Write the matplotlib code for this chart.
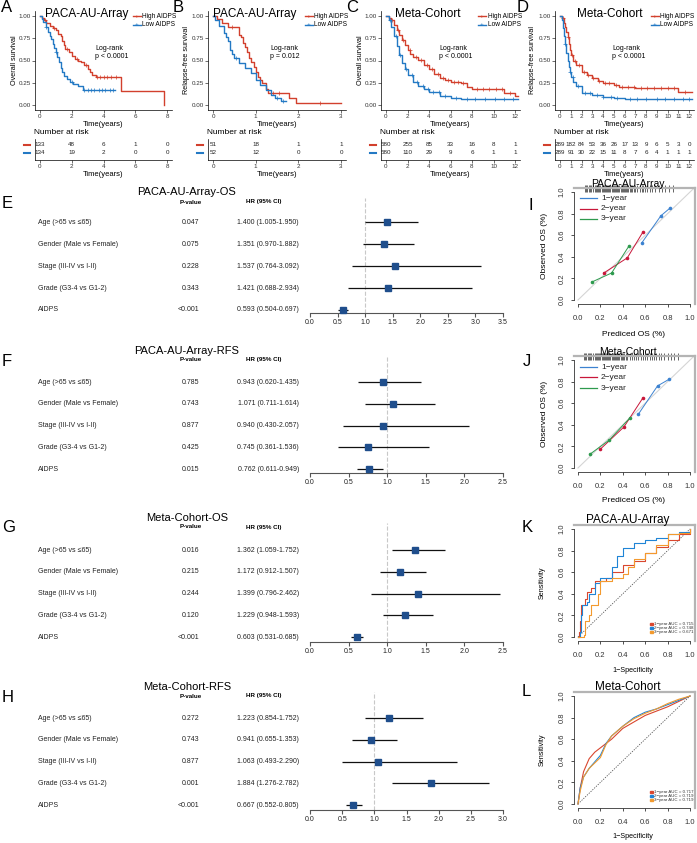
import numpy as np
import matplotlib
matplotlib.use("Agg")
import matplotlib.pyplot as plt
from matplotlib.lines import Line2D
from matplotlib.patches import Rectangle

plt.rcParams['font.family'] = ['Liberation Sans', 'DejaVu Sans']

# ====================== DATA ======================
# ---- Kaplan-Meier step curves ----
A_high_t = [0, 0.1, 0.25, 0.4, 0.6, 0.8, 1.0, 1.15, 1.3, 1.4, 1.5, 1.6, 1.8, 2.0, 2.2, 2.4, 2.6, 2.8, 3.0, 3.15, 3.3, 3.5, 5.1, 7.8]
A_high_s = [1, 0.975, 0.95, 0.92, 0.89, 0.865, 0.84, 0.80, 0.77, 0.72, 0.67, 0.63, 0.59, 0.55, 0.52, 0.50, 0.48, 0.45, 0.41, 0.37, 0.34, 0.31, 0.16, 0.0]
A_high_end = 7.8
A_low_t = [0, 0.1, 0.2, 0.35, 0.5, 0.6, 0.7, 0.8, 0.9, 1.0, 1.1, 1.2, 1.3, 1.4, 1.5, 1.7, 1.9, 2.1, 2.4, 2.7]
A_low_s = [1, 0.97, 0.93, 0.88, 0.82, 0.78, 0.74, 0.69, 0.64, 0.59, 0.54, 0.48, 0.42, 0.37, 0.33, 0.29, 0.26, 0.235, 0.21, 0.17]
A_low_end = 4.7
A_cens_high = [0.3, 0.9, 1.7, 2.3, 2.9, 3.6, 3.8, 4.0, 4.2, 4.5, 4.8]
A_cens_low = [0.4, 1.0, 2.0, 2.8, 3.0, 3.2, 3.4, 3.7, 3.9, 4.1, 4.4, 4.6]

B_high_t = [0, 0.1, 0.2, 0.35, 0.6, 0.65, 0.7, 0.75, 0.8, 0.85, 0.9, 0.95, 1.0, 1.05, 1.1, 1.15, 1.25, 1.3, 1.78, 1.95]
B_high_s = [1, 0.97, 0.925, 0.875, 0.79, 0.76, 0.70, 0.65, 0.60, 0.53, 0.48, 0.43, 0.37, 0.32, 0.28, 0.245, 0.18, 0.13, 0.075, 0.02]
B_high_end = 3.0
B_low_t = [0, 0.05, 0.15, 0.25, 0.3, 0.35, 0.4, 0.45, 0.5, 0.6, 0.75, 0.9, 1.0, 1.1, 1.25, 1.35, 1.45, 1.6]
B_low_s = [1, 0.96, 0.89, 0.81, 0.76, 0.72, 0.62, 0.57, 0.53, 0.47, 0.415, 0.36, 0.28, 0.22, 0.17, 0.11, 0.075, 0.04]
B_low_end = 1.72
B_cens_high = [0.45, 1.4, 1.55, 2.5]
B_cens_low = [0.55, 1.5, 1.65]

C_high_t = [0, 0.25, 0.5, 0.75, 1.0, 1.25, 1.5, 1.75, 2.0, 2.25, 2.5, 3.0, 3.5, 4.0, 4.5, 5.0, 5.5, 6.0, 7.0, 7.5, 8.0, 11.0, 12.0]
C_high_s = [1, 0.98, 0.95, 0.90, 0.84, 0.79, 0.73, 0.67, 0.62, 0.57, 0.54, 0.505, 0.45, 0.40, 0.345, 0.30, 0.28, 0.26, 0.25, 0.20, 0.18, 0.13, 0.105]
C_high_end = 12.3
C_low_t = [0, 0.25, 0.5, 0.75, 1.0, 1.25, 1.5, 1.75, 2.0, 2.5, 3.0, 3.5, 4.0, 5.0, 6.0, 7.0]
C_low_s = [1, 0.95, 0.88, 0.77, 0.66, 0.56, 0.47, 0.40, 0.34, 0.26, 0.21, 0.18, 0.15, 0.105, 0.08, 0.07]
C_low_end = 12.3
C_cens_high = [0.6, 1.1, 1.6, 2.2, 2.8, 3.3, 3.8, 4.3, 4.8, 5.3, 5.8, 6.3, 6.7, 7.2, 8.5, 9.0, 9.6, 10.2, 10.8, 11.5]
C_cens_low = [0.4, 0.9, 1.3, 1.9, 2.4, 2.9, 3.4, 3.9, 4.4, 4.9, 5.5, 6.5, 7.5, 8.3, 9.2, 10.1, 11.0, 11.8]

D_high_t = [0, 0.2, 0.4, 0.5, 0.6, 0.7, 0.8, 0.9, 1.0, 1.25, 1.5, 2.0, 2.5, 3.0, 3.5, 4.0, 5.0, 5.5, 7.0, 11.0]
D_high_s = [1, 0.975, 0.92, 0.88, 0.825, 0.76, 0.69, 0.62, 0.56, 0.50, 0.45, 0.375, 0.34, 0.30, 0.27, 0.25, 0.225, 0.205, 0.195, 0.15]
D_high_end = 12.3
D_low_t = [0, 0.2, 0.3, 0.4, 0.5, 0.6, 0.7, 0.8, 0.9, 1.0, 1.25, 1.5, 2.0, 3.0, 4.0, 5.0, 6.0]
D_low_s = [1, 0.95, 0.87, 0.77, 0.68, 0.58, 0.50, 0.43, 0.37, 0.32, 0.26, 0.21, 0.13, 0.11, 0.095, 0.08, 0.07]
D_low_end = 12.3
D_cens_high = [0.3, 0.7, 1.1, 1.4, 1.8, 2.2, 2.6, 3.1, 3.6, 4.2, 4.6, 5.2, 5.8, 6.3, 6.9, 7.5, 8.1, 8.7, 9.4, 10.0, 10.6, 11.6]
D_cens_low = [0.5, 0.9, 1.2, 1.7, 2.3, 2.8, 3.4, 4.0, 4.7, 5.3, 6.5, 7.2, 8.0, 9.0, 9.8, 10.6, 11.4, 12.0]

# ---- numbers at risk ----
A_risk_t = [0, 2, 4, 6, 8];  A_risk_high = [133, 48, 6, 1, 0];  A_risk_low = [134, 19, 2, 0, 0]
B_risk_t = [0, 1, 2, 3];     B_risk_high = [51, 18, 1, 1];     B_risk_low = [52, 12, 0, 0]
C_risk_t = [0, 2, 4, 6, 8, 10, 12]
C_risk_high = [580, 255, 85, 33, 16, 8, 1]
C_risk_low = [580, 110, 29, 9, 6, 1, 1]
D_risk_t = list(range(13))
D_risk_high = [289, 182, 84, 53, 36, 26, 17, 13, 9, 6, 5, 3, 0]
D_risk_low = [289, 91, 30, 22, 15, 11, 8, 7, 6, 4, 1, 1, 1]

# ---- forest plots ----
forest_labels = ["Age (>65 vs \u226465)", "Gender (Male vs Female)", "Stage (III-IV vs I-II)",
                 "Grade (G3-4 vs G1-2)", "AIDPS"]
E_p = ["0.047", "0.075", "0.228", "0.343", "<0.001"]
E_hr = [1.400, 1.351, 1.537, 1.421, 0.593]
E_lo = [1.005, 0.970, 0.764, 0.688, 0.504]
E_hi = [1.950, 1.882, 3.092, 2.934, 0.697]
F_p = ["0.785", "0.743", "0.877", "0.425", "0.015"]
F_hr = [0.943, 1.071, 0.940, 0.745, 0.762]
F_lo = [0.620, 0.711, 0.430, 0.361, 0.611]
F_hi = [1.435, 1.614, 2.057, 1.536, 0.949]
G_p = ["0.016", "0.215", "0.244", "0.120", "<0.001"]
G_hr = [1.362, 1.172, 1.399, 1.229, 0.603]
G_lo = [1.059, 0.912, 0.796, 0.948, 0.531]
G_hi = [1.752, 1.507, 2.462, 1.593, 0.685]
H_p = ["0.272", "0.743", "0.877", "0.001", "<0.001"]
H_hr = [1.223, 0.941, 1.063, 1.884, 0.667]
H_lo = [0.854, 0.655, 0.493, 1.276, 0.552]
H_hi = [1.752, 1.353, 2.290, 2.782, 0.805]

# ---- calibration curves (predicted, observed) ----
I_1y_x = [0.57, 0.74, 0.82]; I_1y_y = [0.53, 0.78, 0.85]
I_2y_x = [0.23, 0.44, 0.58]; I_2y_y = [0.25, 0.39, 0.63]
I_3y_x = [0.125, 0.30, 0.455]; I_3y_y = [0.167, 0.25, 0.50]
J_1y_x = [0.54, 0.71, 0.81]; J_1y_y = [0.50, 0.76, 0.82]
J_2y_x = [0.20, 0.41, 0.58]; J_2y_y = [0.175, 0.38, 0.65]
J_3y_x = [0.11, 0.28, 0.46]; J_3y_y = [0.13, 0.26, 0.46]
I_rug = [0.06, 0.07, 0.08, 0.1, 0.11, 0.12, 0.13, 0.15, 0.16, 0.17, 0.18, 0.19, 0.2, 0.21, 0.22, 0.23,
         0.24, 0.25, 0.26, 0.27, 0.28, 0.29, 0.3, 0.31, 0.32, 0.33, 0.34, 0.35, 0.36, 0.37, 0.38, 0.39,
         0.4, 0.41, 0.42, 0.43, 0.44, 0.45, 0.46, 0.47, 0.48, 0.5, 0.51, 0.53, 0.55, 0.57, 0.58, 0.6,
         0.62, 0.64, 0.66, 0.69, 0.72, 0.75, 0.78, 0.81, 0.85]
J_rug = [0.05, 0.06, 0.07, 0.09, 0.1, 0.11, 0.12, 0.13, 0.15, 0.16, 0.17, 0.18, 0.19, 0.2, 0.21, 0.22,
         0.23, 0.24, 0.25, 0.26, 0.27, 0.28, 0.29, 0.3, 0.31, 0.32, 0.33, 0.34, 0.35, 0.36, 0.37, 0.38,
         0.39, 0.4, 0.41, 0.43, 0.44, 0.46, 0.48, 0.5, 0.52, 0.54, 0.56, 0.58, 0.6, 0.62, 0.64, 0.66,
         0.68, 0.7, 0.72, 0.74, 0.77, 0.8, 0.83, 0.86, 0.89]

# ---- ROC curves (1-specificity, sensitivity) ----
K_1y_x = [0, 0.01, 0.02, 0.03, 0.06, 0.08, 0.12, 0.15, 0.25, 0.3, 0.4, 0.5, 0.6, 0.7, 0.8, 0.9, 1.0]
K_1y_y = [0, 0.05, 0.15, 0.30, 0.35, 0.42, 0.45, 0.52, 0.55, 0.60, 0.67, 0.70, 0.78, 0.83, 0.90, 0.95, 1.0]
K_2y_x = [0, 0.02, 0.03, 0.04, 0.08, 0.1, 0.15, 0.2, 0.3, 0.35, 0.4, 0.5, 0.6, 0.7, 0.8, 0.9, 1.0]
K_2y_y = [0, 0.05, 0.20, 0.30, 0.32, 0.40, 0.50, 0.55, 0.65, 0.75, 0.82, 0.87, 0.90, 0.92, 0.95, 0.97, 1.0]
K_3y_x = [0, 0.05, 0.06, 0.1, 0.12, 0.18, 0.2, 0.3, 0.4, 0.45, 0.5, 0.6, 0.7, 0.8, 0.9, 1.0]
K_3y_y = [0, 0.02, 0.15, 0.20, 0.30, 0.40, 0.52, 0.55, 0.58, 0.65, 0.72, 0.78, 0.85, 0.95, 0.96, 1.0]
K_auc = [0.715, 0.748, 0.671]
L_1y_x = [0, 0.02, 0.05, 0.1, 0.15, 0.2, 0.3, 0.4, 0.5, 0.6, 0.7, 0.8, 0.9, 1.0]
L_1y_y = [0, 0.15, 0.30, 0.42, 0.48, 0.52, 0.60, 0.70, 0.76, 0.82, 0.86, 0.90, 0.95, 1.0]
L_2y_x = [0, 0.02, 0.05, 0.1, 0.2, 0.25, 0.3, 0.4, 0.5, 0.6, 0.7, 0.8, 0.9, 1.0]
L_2y_y = [0, 0.15, 0.25, 0.33, 0.45, 0.56, 0.63, 0.72, 0.80, 0.85, 0.88, 0.92, 0.96, 1.0]
L_3y_x = [0, 0.02, 0.05, 0.1, 0.2, 0.25, 0.3, 0.4, 0.5, 0.6, 0.7, 0.8, 0.9, 1.0]
L_3y_y = [0, 0.12, 0.25, 0.33, 0.43, 0.55, 0.63, 0.72, 0.79, 0.84, 0.88, 0.93, 0.97, 1.0]
L_auc = [0.717, 0.719, 0.719]

# ====================== STYLE ======================
RED = '#D2402D'
BLUE = '#2379C4'
NAVY = '#1F4E8C'
CAL_BLUE, CAL_RED, CAL_GREEN = '#3C82D0', '#C8173A', '#2E9A4E'
ROC_RED, ROC_BLUE, ROC_ORANGE = '#D9472F', '#1F84D6', '#F39A2E'

W, H = 697, 843
fig = plt.figure(figsize=(W / 100, H / 100), dpi=100)


def px_axes(x0, y0, x1, y1):
    return fig.add_axes([x0 / W, 1 - y1 / H, (x1 - x0) / W, (y1 - y0) / H])


def ftext(x, y, s, **kw):
    kw.setdefault('va', 'center')
    fig.text(x / W, 1 - y / H, s, **kw)


def fline(x0, x1, y, **kw):
    fig.add_artist(Line2D([x0 / W, x1 / W], [1 - y / H, 1 - y / H], transform=fig.transFigure, **kw))


def surv_at(t, s, ct):
    i = np.searchsorted(np.asarray(t), ct, side='right') - 1
    return np.asarray(s)[i]


def km_panel(letter, letter_x, t0px, t1px, tmax, xticks, ylabel, ylab_x, title, title_x,
             high, low, cens, logrank_x, ptext, leg_line_x, risk_t, risk_high, risk_low):
    y1px, y0px = 16, 105
    sx = (t1px - t0px) / tmax
    sy = (y0px - y1px)
    ax = px_axes(t0px - 5, y1px - 5, t1px + 5, y0px + 5)
    ax.set_xlim(-5 / sx, tmax + 5 / sx)
    ax.set_ylim(-5 / sy, 1 + 5 / sy)
    for sp in ['top', 'right']:
        ax.spines[sp].set_visible(False)
    for sp in ['left', 'bottom']:
        ax.spines[sp].set_linewidth(0.5)
    ax.tick_params(length=2, width=0.5, labelsize=4.5, pad=1, colors='#333333')
    ax.set_xticks(xticks)
    ax.set_xticklabels([str(v) for v in xticks])
    ax.set_yticks([0, 0.25, 0.5, 0.75, 1.0])
    ax.set_yticklabels(['0.00', '0.25', '0.50', '0.75', '1.00'])
    for (t, s, end), col, ct in [(high, RED, cens[0]), (low, BLUE, cens[1])]:
        ax.step(list(t) + [end], list(s) + [s[-1]], where='post', color=col, lw=1.0)
        ct = [c for c in ct if c <= end]
        ax.plot(ct, [surv_at(t, s, c) for c in ct], '+', color=col, ms=2.5, mew=0.5)
    ax.set_xlabel('Time(years)', fontsize=5.5, labelpad=1)
    ftext(ylab_x, 60, ylabel, fontsize=5.2, rotation=90, ha='center')
    ftext(title_x, 14, title, fontsize=8.5, ha='center')
    ftext(logrank_x, 48, 'Log-rank', fontsize=5, ha='left')
    ftext(logrank_x, 57, ptext, fontsize=5, ha='left')
    ftext(letter_x, 7, letter, fontsize=12, ha='left')
    # legend
    for yy, col, lab in [(16, RED, 'High AIDPS'), (25, BLUE, 'Low AIDPS')]:
        fline(leg_line_x, leg_line_x + 8, yy, color=col, lw=1)
        ftext(leg_line_x + 4, yy, '+', fontsize=4.5, color=col, ha='center')
        ftext(leg_line_x + 9.5, yy, lab, fontsize=4.7, ha='left')
    # risk table
    rax = px_axes(t0px - 5, 139, t1px + 5, 160)
    rax.set_xlim(-5 / sx, tmax + 5 / sx)
    rax.set_ylim(160, 139)
    for sp in ['top', 'right']:
        rax.spines[sp].set_visible(False)
    for sp in ['left', 'bottom']:
        rax.spines[sp].set_linewidth(0.5)
    rax.set_yticks([])
    rax.set_xticks(risk_t)
    rax.set_xticklabels([str(v) for v in risk_t])
    rax.tick_params(length=2, width=0.5, labelsize=4.5, pad=1, colors='#333333')
    rax.set_xlabel('Time(years)', fontsize=5.5, labelpad=1)
    for yy, vals, col in [(145, risk_high, RED), (153, risk_low, BLUE)]:
        for tt, v in zip(risk_t, vals):
            rax.text(tt, yy, str(v), fontsize=4.5, ha='center', va='center', color='#222222')
        fline(t0px - 16, t0px - 10, yy, color=col, lw=1.5)
    ftext(t0px - 6, 133, 'Number at risk', fontsize=6, ha='left')


km_panel('A', 1, 40, 167, 8, [0, 2, 4, 6, 8], 'Overall survival', 15, 'PACA-AU-Array', 87,
         (A_high_t, A_high_s, A_high_end), (A_low_t, A_low_s, A_low_end), (A_cens_high, A_cens_low),
         95, 'p < 0.0001', 133, A_risk_t, A_risk_high, A_risk_low)
km_panel('B', 173, 213, 341, 3, [0, 1, 2, 3], 'Relapse-free survival', 187, 'PACA-AU-Array', 255,
         (B_high_t, B_high_s, B_high_end), (B_low_t, B_low_s, B_low_end), (B_cens_high, B_cens_low),
         270, 'p = 0.012', 305, B_risk_t, B_risk_high, B_risk_low)
km_panel('C', 346, 386, 515, 12, [0, 2, 4, 6, 8, 10, 12], 'Overall survival', 360, 'Meta-Cohort', 428,
         (C_high_t, C_high_s, C_high_end), (C_low_t, C_low_s, C_low_end), (C_cens_high, C_cens_low),
         439, 'p < 0.0001', 478, C_risk_t, C_risk_high, C_risk_low)
km_panel('D', 517, 560, 689, 12, list(range(13)), 'Relapse-free survival', 533, 'Meta-Cohort', 610,
         (D_high_t, D_high_s, D_high_end), (D_low_t, D_low_s, D_low_end), (D_cens_high, D_cens_low),
         612, 'p < 0.0001', 651, D_risk_t, D_risk_high, D_risk_low)


# ---------------- forest plots ----------------
def forest(letter, title, title_y, header_y, row0, sp, axis_y, xmax, p, hr, lo, hi):
    ftext(2, header_y + 1, letter, fontsize=12, ha='left')
    ftext(187, title_y, title, fontsize=8, ha='center')
    ftext(191, header_y, 'P-value', fontsize=4.5, weight='bold', ha='center')
    ftext(264, header_y, 'HR (95% CI)', fontsize=4.5, weight='bold', ha='center')
    for i, lab in enumerate(forest_labels):
        yy = row0 + i * sp
        ftext(38, yy, lab, fontsize=5, ha='left', color='#222222')
        ftext(199, yy, p[i], fontsize=5, ha='right', color='#222222')
        ftext(299, yy, f"{hr[i]:.3f} ({lo[i]:.3f}-{hi[i]:.3f})", fontsize=5, ha='right', color='#222222')
    top = header_y - 4
    ax = px_axes(310, top, 503, axis_y)
    ax.set_xlim(0, xmax)
    ax.set_ylim((axis_y - row0) / sp, (top - row0) / sp)
    for s in ['top', 'right', 'left']:
        ax.spines[s].set_visible(False)
    ax.spines['bottom'].set_color('#555555')
    ax.spines['bottom'].set_linewidth(0.8)
    ax.set_yticks([])
    ticks = np.arange(0, xmax + 0.01, 0.5)
    ax.set_xticks(ticks)
    ax.set_xticklabels([f"{t:.1f}" for t in ticks])
    ax.tick_params(axis='x', length=3, width=0.8, color='#555555', labelsize=5, pad=1.5, labelcolor='#222222')
    ax.axvline(1.0, color='#C8C8C8', ls='--', lw=0.8, zorder=0)
    idx = np.arange(len(hr))
    ax.hlines(idx, lo, hi, color='#111111', lw=0.9, zorder=2)
    ax.plot(hr, idx, 's', color=NAVY, ms=4.5, zorder=3, clip_on=False)


forest('E', 'PACA-AU-Array-OS', 192, 202, 222, 22, 313, 3.5, E_p, E_hr, E_lo, E_hi)
forest('F', 'PACA-AU-Array-RFS', 351, 360, 382, 21.8, 473, 2.5, F_p, F_hr, F_lo, F_hi)
forest('G', 'Meta-Cohort-OS', 518, 527, 550, 21.8, 642, 2.5, G_p, G_hr, G_lo, G_hi)
forest('H', 'Meta-Cohort-RFS', 687, 696, 718, 21.8, 810, 3.0, H_p, H_hr, H_lo, H_hi)


# ---------------- R-style axes ----------------
def r_axes(top):
    ax = px_axes(573.5, top, 694.5, top + 116.6)
    ax.set_xlim(-0.04, 1.04)
    ax.set_ylim(-0.04, 1.04)
    for s in ['top', 'right']:
        ax.spines[s].set_color('#B4B4B4')
        ax.spines[s].set_linewidth(1.6)
    for s in ['left', 'bottom']:
        ax.spines[s].set_bounds(0, 1)
        ax.spines[s].set_linewidth(0.6)
        ax.spines[s].set_color('#333333')
    t = [0, 0.2, 0.4, 0.6, 0.8, 1.0]
    ax.set_xticks(t)
    ax.set_yticks(t)
    ax.set_xticklabels([f"{v:.1f}" for v in t])
    ax.set_yticklabels([f"{v:.1f}" for v in t], rotation=90, va='center')
    ax.tick_params(length=2.5, width=0.6, labelsize=5.5, colors='#333333')
    ax.tick_params(axis='x', pad=5)
    ax.tick_params(axis='y', pad=3)
    return ax


def calib_panel(letter, letter_y, top, title, series, rug, leg_y0, xl_y):
    ax = r_axes(top)
    ax.plot([0, 1.04], [0, 1.04], color='#D5D5D5', lw=0.8, zorder=0)
    for xs, ys, col in series:
        ax.plot(xs, ys, color=col, lw=0.7)
        ax.plot(xs, ys, 'o', color=col, ms=2.6, mew=0)
    ax.vlines(rug, 1.0, 1.065, color='#4A4A4A', lw=0.6, clip_on=False)
    ftext(628, top - 4, title, fontsize=7.5, ha='center')
    ftext(544, top + 58, 'Observed OS (%)', fontsize=6, rotation=90, ha='center')
    ftext(633, xl_y, 'Prediced OS (%)', fontsize=6, ha='center')
    ftext(letter[1], letter_y, letter[0], fontsize=12, ha='left')
    for k, (lab, col) in enumerate([('1\u2212year', CAL_BLUE), ('2\u2212year', CAL_RED), ('3\u2212year', CAL_GREEN)]):
        yy = leg_y0 + k * 10.5
        fline(580, 597, yy, color=col, lw=0.9)
        ftext(601, yy, lab, fontsize=6, ha='left', color='#222222')


calib_panel(('I', 528), 206, 187.7, 'PACA-AU-Array',
            [(I_1y_x, I_1y_y, CAL_BLUE), (I_2y_x, I_2y_y, CAL_RED), (I_3y_x, I_3y_y, CAL_GREEN)],
            I_rug, 198, 334)
calib_panel(('J', 523), 362, 355.7, 'Meta-Cohort',
            [(J_1y_x, J_1y_y, CAL_BLUE), (J_2y_x, J_2y_y, CAL_RED), (J_3y_x, J_3y_y, CAL_GREEN)],
            J_rug, 367, 501)


def roc_panel(letter, letter_y, top, title, series, aucs, leg_y0, xl_y, stepped):
    ax = r_axes(top)
    ax.plot([0, 1], [0, 1], color='#555555', ls=(0, (1.5, 1.5)), lw=0.6, zorder=0)
    for xs, ys, col in series:
        if stepped:
            ax.step(xs, ys, where='post', color=col, lw=0.8)
        else:
            ax.plot(xs, ys, color=col, lw=0.8)
    ftext(628, top - 5, title, fontsize=8.5, ha='center')
    ftext(542, top + 58, 'Sensitivity', fontsize=5.2, rotation=90, ha='center')
    ftext(633, xl_y, '1\u2212Specificity', fontsize=5.2, ha='center')
    ftext(522, letter_y, letter, fontsize=12, ha='left')
    for k, (auc, (_, _, col)) in enumerate(zip(aucs, series)):
        yy = leg_y0 + k * 4
        fig.add_artist(Rectangle(((650) / W, 1 - (yy + 1.3) / H), 2.6 / W, 2.6 / H,
                                 transform=fig.transFigure, color=col))
        ftext(654, yy, f"{k + 1}\u2212year AUC = {auc:.3f}", fontsize=3.2, ha='left', color='#333333')


roc_panel('K', 527, 524.7, 'PACA-AU-Array',
          [(K_1y_x, K_1y_y, ROC_RED), (K_2y_x, K_2y_y, ROC_BLUE), (K_3y_x, K_3y_y, ROC_ORANGE)],
          K_auc, 624, 671, True)
roc_panel('L', 692, 691.7, 'Meta-Cohort',
          [(L_1y_x, L_1y_y, ROC_RED), (L_2y_x, L_2y_y, ROC_BLUE), (L_3y_x, L_3y_y, ROC_ORANGE)],
          L_auc, 792, 837, False)

fig.savefig('out.png', dpi=100)
